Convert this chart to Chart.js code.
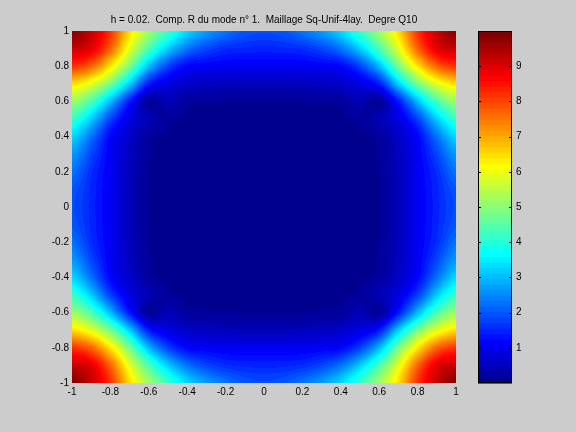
<!DOCTYPE html>
<html>
<head>
<meta charset="utf-8">
<script src="https://cdn.jsdelivr.net/npm/chart.js@4.4.0/dist/chart.umd.min.js"></script>
<style>
  html, body { margin: 0; padding: 0; background: #cccccc; }
  #wrap { position: relative; width: 576px; height: 432px; overflow: hidden; }
  #field { position: absolute; left: 0; top: 0; }
  #cbar { position: absolute; left: 470px; top: 0; }
</style>
</head>
<body>
<div id="wrap">
  <canvas id="field" width="470" height="432"></canvas>
  <canvas id="cbar" width="106" height="432"></canvas>
</div>
<script>
const titleText = 'h = 0.02.  Comp. R du mode n\u00b0 1.  Maillage Sq-Unif-4lay.  Degre Q10';

// grid nodes (x left to right, y top to bottom)
const xNodes = [-1, -0.9, -0.8, -0.7, -0.6, -0.5, -0.4, -0.3, -0.2, -0.1, 0, 0.1, 0.2, 0.3, 0.4, 0.5, 0.6, 0.7, 0.8, 0.9, 1];
const yNodes = [1, 0.9, 0.8, 0.7, 0.6, 0.5, 0.4, 0.3, 0.2, 0.1, 0, -0.1, -0.2, -0.3, -0.4, -0.5, -0.6, -0.7, -0.8, -0.9, -1];
const axisTicks = [-1, -0.8, -0.6, -0.4, -0.2, 0, 0.2, 0.4, 0.6, 0.8, 1];
const colorTicks = [1, 2, 3, 4, 5, 6, 7, 8, 9];
const cMin = 0;
const cMax = 10;

// |R| values, one row per y node
const fieldRows = [
  [9.9, 9.2, 8.2, 6.5, 5.2, 4.2, 3.3, 2.7, 2.3, 2.0, 1.9, 2.0, 2.3, 2.7, 3.3, 4.2, 5.2, 6.5, 8.2, 9.2, 9.9],
  [9.2, 8.9, 7.7, 5.9, 4.4, 3.2, 2.3, 1.85, 1.6, 1.52, 1.5, 1.52, 1.6, 1.85, 2.3, 3.2, 4.4, 5.9, 7.7, 8.9, 9.2],
  [8.2, 7.7, 6.4, 4.8, 3.0, 1.8, 1.2, 1.1, 1.07, 1.05, 1.05, 1.05, 1.07, 1.1, 1.2, 1.8, 3.0, 4.8, 6.4, 7.7, 8.2],
  [6.5, 5.9, 4.8, 3.2, 1.4, 0.9, 0.65, 0.56, 0.52, 0.5, 0.5, 0.5, 0.52, 0.56, 0.65, 0.9, 1.4, 3.2, 4.8, 5.9, 6.5],
  [5.2, 4.4, 3.0, 1.4, 0.2, 0.45, 0.22, 0.18, 0.16, 0.15, 0.15, 0.15, 0.16, 0.18, 0.22, 0.45, 0.2, 1.4, 3.0, 4.4, 5.2],
  [4.2, 3.2, 1.8, 0.9, 0.45, 0.2, 0.12, 0.09, 0.08, 0.08, 0.08, 0.08, 0.08, 0.09, 0.12, 0.2, 0.45, 0.9, 1.8, 3.2, 4.2],
  [3.3, 2.3, 1.2, 0.65, 0.22, 0.12, 0.1, 0.08, 0.07, 0.07, 0.07, 0.07, 0.07, 0.08, 0.1, 0.12, 0.22, 0.65, 1.2, 2.3, 3.3],
  [2.7, 1.85, 1.1, 0.56, 0.18, 0.09, 0.08, 0.06, 0.06, 0.06, 0.06, 0.06, 0.06, 0.06, 0.08, 0.09, 0.18, 0.56, 1.1, 1.85, 2.7],
  [2.3, 1.6, 1.07, 0.52, 0.16, 0.08, 0.07, 0.06, 0.06, 0.06, 0.06, 0.06, 0.06, 0.06, 0.07, 0.08, 0.16, 0.52, 1.07, 1.6, 2.3],
  [2.0, 1.52, 1.05, 0.5, 0.15, 0.08, 0.07, 0.06, 0.06, 0.06, 0.06, 0.06, 0.06, 0.06, 0.07, 0.08, 0.15, 0.5, 1.05, 1.52, 2.0],
  [1.9, 1.5, 1.05, 0.5, 0.15, 0.08, 0.07, 0.06, 0.06, 0.06, 0.06, 0.06, 0.06, 0.06, 0.07, 0.08, 0.15, 0.5, 1.05, 1.5, 1.9],
  [2.0, 1.52, 1.05, 0.5, 0.15, 0.08, 0.07, 0.06, 0.06, 0.06, 0.06, 0.06, 0.06, 0.06, 0.07, 0.08, 0.15, 0.5, 1.05, 1.52, 2.0],
  [2.3, 1.6, 1.07, 0.52, 0.16, 0.08, 0.07, 0.06, 0.06, 0.06, 0.06, 0.06, 0.06, 0.06, 0.07, 0.08, 0.16, 0.52, 1.07, 1.6, 2.3],
  [2.7, 1.85, 1.1, 0.56, 0.18, 0.09, 0.08, 0.06, 0.06, 0.06, 0.06, 0.06, 0.06, 0.06, 0.08, 0.09, 0.18, 0.56, 1.1, 1.85, 2.7],
  [3.3, 2.3, 1.2, 0.65, 0.22, 0.12, 0.1, 0.08, 0.07, 0.07, 0.07, 0.07, 0.07, 0.08, 0.1, 0.12, 0.22, 0.65, 1.2, 2.3, 3.3],
  [4.2, 3.2, 1.8, 0.9, 0.45, 0.2, 0.12, 0.09, 0.08, 0.08, 0.08, 0.08, 0.08, 0.09, 0.12, 0.2, 0.45, 0.9, 1.8, 3.2, 4.2],
  [5.2, 4.4, 3.0, 1.4, 0.2, 0.45, 0.22, 0.18, 0.16, 0.15, 0.15, 0.15, 0.16, 0.18, 0.22, 0.45, 0.2, 1.4, 3.0, 4.4, 5.2],
  [6.5, 5.9, 4.8, 3.2, 1.4, 0.9, 0.65, 0.56, 0.52, 0.5, 0.5, 0.5, 0.52, 0.56, 0.65, 0.9, 1.4, 3.2, 4.8, 5.9, 6.5],
  [8.2, 7.7, 6.4, 4.8, 3.0, 1.8, 1.2, 1.1, 1.07, 1.05, 1.05, 1.05, 1.07, 1.1, 1.2, 1.8, 3.0, 4.8, 6.4, 7.7, 8.2],
  [9.2, 8.9, 7.7, 5.9, 4.4, 3.2, 2.3, 1.85, 1.6, 1.52, 1.5, 1.52, 1.6, 1.85, 2.3, 3.2, 4.4, 5.9, 7.7, 8.9, 9.2],
  [9.9, 9.2, 8.2, 6.5, 5.2, 4.2, 3.3, 2.7, 2.3, 2.0, 1.9, 2.0, 2.3, 2.7, 3.3, 4.2, 5.2, 6.5, 8.2, 9.2, 9.9]
];

const tickFont = { family: '"Liberation Sans", Arial, sans-serif', size: 10 };

// same construction as matlab's jet(n)
function jetColormap(n) {
  const m = Math.ceil(n / 4);
  const u = [];
  for (let i = 1; i <= m; i++) u.push(i / m);
  for (let i = 1; i < m; i++) u.push(1);
  for (let i = m; i >= 1; i--) u.push(i / m);
  const g0 = Math.ceil(m / 2) - (n % 4 === 1 ? 1 : 0);
  const map = [];
  for (let k = 0; k < n; k++) map.push([0, 0, 0]);
  u.forEach((val, idx) => {
    const g = g0 + idx + 1, r = g + m, b = g - m;
    if (r >= 1 && r <= n) map[r - 1][0] = val;
    if (g >= 1 && g <= n) map[g - 1][1] = val;
    if (b >= 1 && b <= n) map[b - 1][2] = val;
  });
  return map.map(c => c.map(v => Math.round(v * 255)));
}
const cmap = jetColormap(64);

function colorIndex(v) {
  const k = Math.floor((v - cMin) / (cMax - cMin) * cmap.length);
  return Math.max(0, Math.min(cmap.length - 1, k));
}

const points = [];
fieldRows.forEach((row, j) => row.forEach((v, i) => points.push({ x: xNodes[i], y: yNodes[j], v: v })));

// shading: smooth (catmull-rom) surface through the grid nodes
function cr(p0, p1, p2, p3, t) {
  return p1 + 0.5 * t * (p2 - p0 + t * (2 * p0 - 5 * p1 + 4 * p2 - p3 + t * (3 * (p1 - p2) + p3 - p0)));
}
function node(j, i) {
  j = Math.max(0, Math.min(yNodes.length - 1, j));
  i = Math.max(0, Math.min(xNodes.length - 1, i));
  return fieldRows[j][i];
}
function valueAt(xv, yv) {
  const nx = xNodes.length, ny = yNodes.length;
  let fi = (xv - xNodes[0]) / (xNodes[1] - xNodes[0]);
  let fj = (yNodes[0] - yv) / (yNodes[0] - yNodes[1]);
  fi = Math.max(0, Math.min(nx - 1, fi));
  fj = Math.max(0, Math.min(ny - 1, fj));
  const i0 = Math.min(nx - 2, Math.floor(fi)), j0 = Math.min(ny - 2, Math.floor(fj));
  const tx = fi - i0, ty = fj - j0;
  const col = [];
  for (let dj = -1; dj <= 2; dj++) {
    col.push(cr(node(j0 + dj, i0 - 1), node(j0 + dj, i0), node(j0 + dj, i0 + 1), node(j0 + dj, i0 + 2), tx));
  }
  return cr(col[0], col[1], col[2], col[3], ty);
}

const fieldPlugin = {
  id: 'fieldImage',
  beforeDatasetsDraw(chart) {
    const { ctx, chartArea: a, scales } = chart;
    const left = Math.round(a.left), top = Math.round(a.top);
    const w = Math.round(a.right) - left, h = Math.round(a.bottom) - top;
    const img = ctx.createImageData(w, h);
    for (let py = 0; py < h; py++) {
      const yv = scales.y.getValueForPixel(top + py + 0.5);
      for (let px = 0; px < w; px++) {
        const xv = scales.x.getValueForPixel(left + px + 0.5);
        const rgb = cmap[colorIndex(valueAt(xv, yv))];
        const k = (py * w + px) * 4;
        img.data[k] = rgb[0];
        img.data[k + 1] = rgb[1];
        img.data[k + 2] = rgb[2];
        img.data[k + 3] = 255;
      }
    }
    ctx.putImageData(img, left, top);
  },
  afterDraw(chart) {
    const { ctx, chartArea } = chart;
    ctx.save();
    ctx.fillStyle = '#000';
    ctx.font = '10px "Liberation Sans", Arial, sans-serif';
    ctx.textAlign = 'center';
    ctx.textBaseline = 'middle';
    ctx.fillText(titleText, (chartArea.left + chartArea.right) / 2, 20);
    ctx.restore();
  }
};

new Chart(document.getElementById('field'), {
  type: 'scatter',
  data: { datasets: [{ data: points, pointRadius: 0, pointHoverRadius: 0 }] },
  options: {
    responsive: false,
    devicePixelRatio: 1,
    animation: false,
    events: [],
    layout: { padding: { left: 0, top: 31, right: 14, bottom: 29 } },
    plugins: { legend: { display: false }, tooltip: { enabled: false } },
    scales: {
      x: {
        type: 'linear', min: -1, max: 1,
        afterBuildTicks: (s) => { s.ticks = axisTicks.map(v => ({ value: v })); },
        afterFit: (s) => { s.height = 20; },
        grid: { display: false, drawTicks: false },
        border: { display: false },
        ticks: { font: tickFont, color: '#000', padding: 3, maxRotation: 0, autoSkip: false,
                 callback: (v) => String(+v.toFixed(1)) }
      },
      y: {
        type: 'linear', min: -1, max: 1,
        afterBuildTicks: (s) => { s.ticks = axisTicks.map(v => ({ value: v })); },
        afterFit: (s) => { s.width = 72; },
        grid: { display: false, drawTicks: false },
        border: { display: false },
        ticks: { font: tickFont, color: '#000', padding: 3, autoSkip: false,
                 callback: (v) => String(+v.toFixed(1)) }
      }
    }
  },
  plugins: [fieldPlugin]
});

// colorbar
const barPlugin = {
  id: 'colorBar',
  beforeDatasetsDraw(chart) {
    const { ctx, chartArea: a, scales } = chart;
    const n = cmap.length;
    for (let k = 0; k < n; k++) {
      const v0 = cMin + (cMax - cMin) * k / n;
      const v1 = cMin + (cMax - cMin) * (k + 1) / n;
      const ya = scales.y.getPixelForValue(v1);
      const yb = scales.y.getPixelForValue(v0);
      ctx.fillStyle = 'rgb(' + cmap[k].join(',') + ')';
      ctx.fillRect(a.left, ya, a.width, yb - ya + 0.6);
    }
    ctx.save();
    ctx.strokeStyle = '#000';
    ctx.lineWidth = 1;
    ctx.beginPath();
    colorTicks.forEach((v) => {
      const y = Math.round(scales.y.getPixelForValue(v)) + 0.5;
      ctx.moveTo(a.left, y); ctx.lineTo(a.left + 3, y);
      ctx.moveTo(a.right, y); ctx.lineTo(a.right - 3, y);
    });
    ctx.stroke();
    ctx.strokeRect(a.left + 0.5, a.top + 0.5, a.width - 1, a.height - 1);
    ctx.restore();
  }
};

new Chart(document.getElementById('cbar'), {
  type: 'scatter',
  data: { datasets: [{ data: [], pointRadius: 0 }] },
  options: {
    responsive: false,
    devicePixelRatio: 1,
    animation: false,
    events: [],
    layout: { padding: { left: 8, top: 31, right: 0, bottom: 49 } },
    plugins: { legend: { display: false }, tooltip: { enabled: false } },
    scales: {
      x: { type: 'linear', min: 0, max: 1, display: false },
      y: {
        type: 'linear', position: 'right', min: cMin, max: cMax,
        afterBuildTicks: (s) => { s.ticks = colorTicks.map(v => ({ value: v })); },
        afterFit: (s) => { s.width = 64; },
        grid: { display: false, drawTicks: false },
        border: { display: false },
        ticks: { font: tickFont, color: '#000', padding: 4, autoSkip: false }
      }
    }
  },
  plugins: [barPlugin]
});
</script>
</body>
</html>
